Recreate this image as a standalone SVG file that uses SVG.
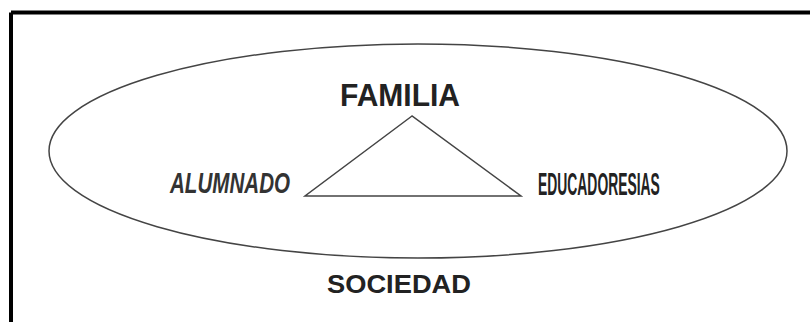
<svg xmlns="http://www.w3.org/2000/svg" width="810" height="322" viewBox="0 0 810 322">
<style>
.lbl{font-family:"Liberation Sans",Arial,sans-serif;fill:#222;}
.cond{font-weight:bold;}
.shape{fill:none;stroke:#444;stroke-width:1.5;}
</style>
<rect width="810" height="322" fill="#fff"/>
<g id="frame">
<line x1="11" y1="12.5" x2="810" y2="12.5" stroke="#000" stroke-width="4"/>
<line x1="11" y1="12.5" x2="11" y2="322" stroke="#000" stroke-width="4"/>
</g>
<g id="sociedad">
<ellipse class="shape" cx="418" cy="151" rx="369" ry="107"/>
<text class="lbl" x="327" y="293" font-size="26" font-weight="bold" textLength="144" lengthAdjust="spacingAndGlyphs">SOCIEDAD</text>
</g>
<g id="connectors">
<polygon class="shape" points="412,116 305,196 521,196"/>
</g>
<g id="familia">
<text class="lbl" x="340" y="106" font-size="31" font-weight="bold" textLength="120" lengthAdjust="spacingAndGlyphs">FAMILIA</text>
</g>
<g id="alumnado">
<text class="lbl cond" transform="translate(170,193) scale(0.69,1)" x="0" y="0" font-size="30" font-style="italic" textLength="174" lengthAdjust="spacingAndGlyphs" style="fill:#333">ALUMNADO</text>
</g>
<g id="educadores">
<text class="lbl cond" transform="translate(538,195) scale(0.44,1)" x="0" y="0" font-size="31" textLength="277" lengthAdjust="spacingAndGlyphs">EDUCADORESIAS</text>
</g>
</svg>
